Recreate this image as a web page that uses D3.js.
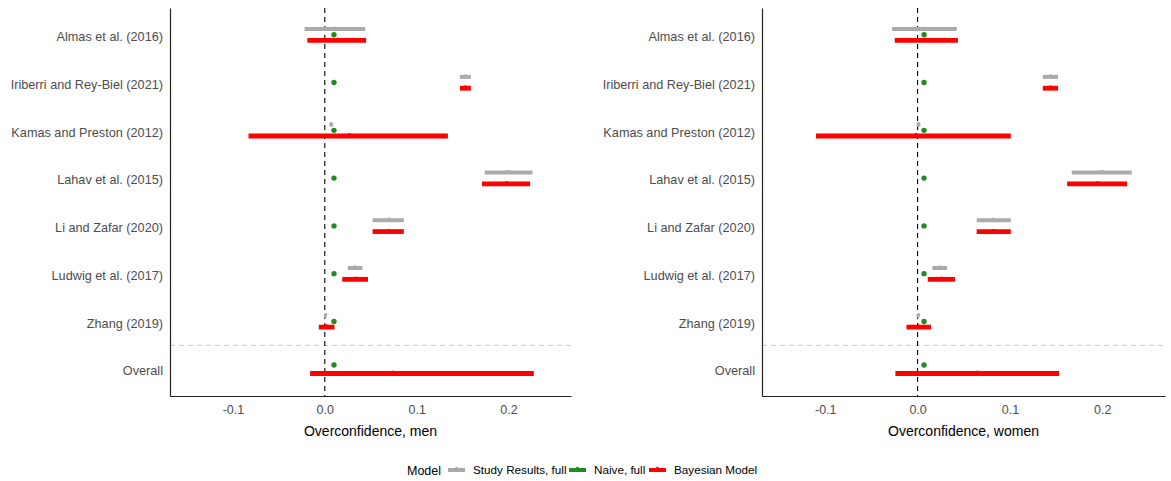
<!DOCTYPE html>
<html>
<head>
<meta charset="utf-8">
<script src="https://cdn.jsdelivr.net/npm/d3@7"></script>
<style>
  body { margin: 0; background: #fff; }
  text { font-family: "Liberation Sans", Arial, sans-serif; }
</style>
</head>
<body>
<div id="chart"></div>
<script>
let studies = ['Almas et al. (2016)', 'Iriberri and Rey-Biel (2021)', 'Kamas and Preston (2012)',
  'Lahav et al. (2015)', 'Li and Zafar (2020)', 'Ludwig et al. (2017)', 'Zhang (2019)', 'Overall'];
let xTicks = [-0.1, 0.0, 0.1, 0.2];

// men
let menStudyMean = [0.011, 0.153, 0.007, 0.200, 0.070, 0.033, 0.001, null];
let menStudyLo   = [-0.022, 0.147, 0.005, 0.174, 0.052, 0.025, -0.001, null];
let menStudyHi   = [0.044, 0.159, 0.009, 0.226, 0.086, 0.041, 0.002, null];
let menNaive     = [0.010, 0.010, 0.010, 0.010, 0.010, 0.010, 0.010, 0.010];
let menBayesMean = [0.014, 0.153, 0.027, 0.198, 0.070, 0.034, 0.002, 0.074];
let menBayesLo   = [-0.019, 0.147, -0.083, 0.171, 0.052, 0.019, -0.0065, -0.016];
let menBayesHi   = [0.045, 0.159, 0.134, 0.2235, 0.086, 0.047, 0.0105, 0.2275];

// women
let womenStudyMean = [0.0065, 0.144, 0.001, 0.200, 0.082, 0.024, 0.001, null];
let womenStudyLo   = [-0.0275, 0.1356, -0.001, 0.167, 0.064, 0.016, -0.001, null];
let womenStudyHi   = [0.0425, 0.1522, 0.003, 0.232, 0.101, 0.032, 0.002, null];
let womenNaive     = [0.007, 0.007, 0.007, 0.007, 0.007, 0.007, 0.007, 0.007];
let womenBayesMean = [0.0093, 0.144, -0.002, 0.195, 0.082, 0.026, 0.001, 0.065];
let womenBayesLo   = [-0.0247, 0.1356, -0.110, 0.162, 0.064, 0.011, -0.012, -0.024];
let womenBayesHi   = [0.0437, 0.1522, 0.101, 0.227, 0.101, 0.0405, 0.0146, 0.1534];

let models = ['Study Results, full', 'Naive, full', 'Bayesian Model'];
let modelColors = ['#aaaaaa', '#228b22', '#ff0000'];

let width = 1171, height = 481;
let plotTop = 8, plotBottom = 396;

let svg = d3.select('#chart').append('svg')
  .attr('width', width)
  .attr('height', height)
  .style('background', '#fff');

let yScale = d3.scalePoint()
  .domain(studies)
  .range([plotTop, plotBottom])
  .padding(0.56);

let fmt = d3.format('.1f');

function panel(x0, x1, title, study, naive, bayes) {
  let xScale = d3.scaleLinear().domain([-0.1685, 0.268]).range([x0, x1]);
  let g = svg.append('g');

  // separator above Overall
  let ySep = (yScale('Zhang (2019)') + yScale('Overall')) / 2;
  g.append('line')
    .attr('x1', x0).attr('x2', x1)
    .attr('y1', ySep).attr('y2', ySep)
    .attr('stroke', '#c8c8c8').attr('stroke-width', 1)
    .attr('stroke-dasharray', '5,4');

  // zero line
  g.append('line')
    .attr('x1', xScale(0)).attr('x2', xScale(0))
    .attr('y1', plotTop).attr('y2', plotBottom)
    .attr('stroke', '#000').attr('stroke-width', 1.1)
    .attr('stroke-dasharray', '5,4');

  let rows = studies.map((s, i) => {
    let n = study.mean[i] == null ? 2 : 3;
    return {s: s, i: i, n: n};
  });
  let w = 17;
  function off(r, k) {
    // dodge offset for model k within row
    if (r.n == 3) return (k - 1) * w / 3;
    return k == 1 ? -w / 4 : w / 4;
  }

  // study results
  let sr = rows.filter(r => study.mean[r.i] != null);
  g.selectAll('.srbar').data(sr).enter().append('line')
    .attr('x1', r => xScale(study.lo[r.i])).attr('x2', r => xScale(study.hi[r.i]))
    .attr('y1', r => yScale(r.s) + off(r, 0)).attr('y2', r => yScale(r.s) + off(r, 0))
    .attr('stroke', modelColors[0]).attr('stroke-width', 4);
  g.selectAll('.srpt').data(sr).enter().append('circle')
    .attr('cx', r => xScale(study.mean[r.i]))
    .attr('cy', r => yScale(r.s) + off(r, 0) - 1)
    .attr('r', 1.7).attr('fill', modelColors[0]);

  // naive
  g.selectAll('.nv').data(rows).enter().append('circle')
    .attr('cx', r => xScale(naive[r.i]))
    .attr('cy', r => yScale(r.s) + off(r, 1))
    .attr('r', 2.7).attr('fill', modelColors[1]);

  // bayesian
  g.selectAll('.bybar').data(rows).enter().append('line')
    .attr('x1', r => xScale(bayes.lo[r.i])).attr('x2', r => xScale(bayes.hi[r.i]))
    .attr('y1', r => yScale(r.s) + off(r, 2)).attr('y2', r => yScale(r.s) + off(r, 2))
    .attr('stroke', modelColors[2]).attr('stroke-width', 4.8);
  g.selectAll('.bypt').data(rows).enter().append('circle')
    .attr('cx', r => xScale(bayes.mean[r.i]))
    .attr('cy', r => yScale(r.s) + off(r, 2) - 1.2)
    .attr('r', 1.7).attr('fill', modelColors[2]);

  // axes
  let yAxis = g.append('g')
    .attr('transform', 'translate(' + x0 + ',0)')
    .call(d3.axisLeft(yScale).tickSize(0).tickPadding(7));
  yAxis.select('.domain').attr('stroke', '#222').attr('stroke-width', 1.2);
  yAxis.selectAll('text')
    .attr('fill', '#4d4d4d').style('font-size', '12.7px')
    .attr('dy', '0.45em');

  let xAxis = g.append('g')
    .attr('transform', 'translate(0,' + plotBottom + ')')
    .call(d3.axisBottom(xScale).tickValues(xTicks).tickSize(0).tickPadding(9)
      .tickFormat(d => fmt(d).replace('\u2212', '-')));
  xAxis.select('.domain').attr('stroke', '#222').attr('stroke-width', 1.2);
  xAxis.selectAll('text')
    .attr('fill', '#4d4d4d').style('font-size', '12.5px');

  g.append('text')
    .attr('x', (x0 + x1) / 2).attr('y', 436)
    .attr('text-anchor', 'middle')
    .style('font-size', '14px').attr('fill', '#000')
    .text(title);
}

panel(170, 571, 'Overconfidence, men',
  {mean: menStudyMean, lo: menStudyLo, hi: menStudyHi}, menNaive,
  {mean: menBayesMean, lo: menBayesLo, hi: menBayesHi});
panel(762, 1165, 'Overconfidence, women',
  {mean: womenStudyMean, lo: womenStudyLo, hi: womenStudyHi}, womenNaive,
  {mean: womenBayesMean, lo: womenBayesLo, hi: womenBayesHi});

// legend
let legend = svg.append('g').attr('transform', 'translate(0,470)');
legend.append('text').attr('x', 407).attr('y', 4.5)
  .style('font-size', '12.5px').attr('fill', '#000').text('Model');
let keyX = [448, 569, 649];
models.forEach((m, i) => {
  let k = legend.append('g').attr('transform', 'translate(' + keyX[i] + ',0)');
  k.append('line').attr('x1', 0).attr('x2', 17).attr('y1', 0).attr('y2', 0)
    .attr('stroke', modelColors[i]).attr('stroke-width', 4);
  k.append('circle').attr('cx', 8.5).attr('cy', -1.5).attr('r', 1.7).attr('fill', modelColors[i]);
  k.append('text').attr('x', 25).attr('y', 4)
    .style('font-size', '11.7px').attr('fill', '#000').text(m);
});
</script>
</body>
</html>
